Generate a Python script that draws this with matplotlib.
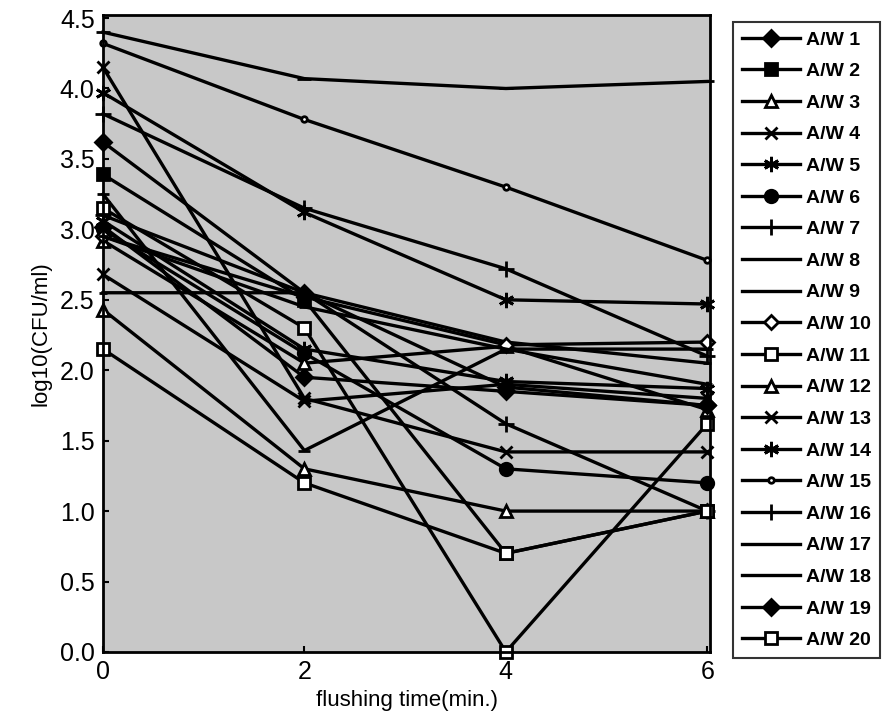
import matplotlib
matplotlib.use("Agg")
import matplotlib.pyplot as plt

plt.rcParams['font.family'] = ['Liberation Sans', 'DejaVu Sans']

times = [0, 2, 4, 6]
labels = ["A/W %d" % i for i in range(1, 21)]

aw1 = [3.02, 1.95, 1.85, 1.75]
aw2 = [3.39, 2.50, 0.70, 1.00]
aw3 = [2.92, 2.05, 2.17, 1.72]
aw4 = [2.68, 1.78, 1.90, 1.80]
aw5 = [3.06, 2.15, 1.92, 1.87]
aw6 = [3.00, 2.12, 1.30, 1.20]
aw7 = [3.10, 2.55, 1.62, 1.00]
aw8 = [2.55, 2.55, 2.20, 2.05]
aw9 = [3.25, 1.43, 2.15, 2.15]
aw10 = [2.95, 2.52, 2.18, 2.20]
aw11 = [3.15, 2.30, 0.00, 1.62]
aw12 = [2.43, 1.30, 1.00, 1.00]
aw13 = [4.15, 1.80, 1.42, 1.42]
aw14 = [3.97, 3.12, 2.50, 2.47]
aw15 = [4.32, 3.78, 3.30, 2.78]
aw16 = [3.82, 3.15, 2.72, 2.10]
aw17 = [2.95, 2.45, 2.15, 1.90]
aw18 = [4.40, 4.07, 4.00, 4.05]
aw19 = [3.62, 2.55, 1.88, 1.75]
aw20 = [2.15, 1.20, 0.70, 1.00]

series = [aw1, aw2, aw3, aw4, aw5, aw6, aw7, aw8, aw9, aw10,
          aw11, aw12, aw13, aw14, aw15, aw16, aw17, aw18, aw19, aw20]

# marker, size, face colour
styles = [
    ('D', 8, 'black'), ('s', 9, 'black'), ('^', 8, 'white'), ('x', 9, 'black'),
    ((6, 2, 0), 11, 'black'), ('o', 9, 'black'), ('+', 12, 'black'), ('_', 6, 'black'),
    ('_', 9, 'black'), ('D', 7, 'white'), ('s', 9, 'white'), ('^', 8, 'white'),
    ('x', 9, 'black'), ((6, 2, 0), 11, 'black'), ('o', 4, 'white'), ('+', 12, 'black'),
    ('_', 7, 'black'), ('_', 10, 'black'), ('D', 8, 'black'), ('s', 9, 'white'),
]

fig = plt.figure(figsize=(8.84, 7.26), dpi=100)
ax = fig.add_axes([0.1165, 0.102, 0.687, 0.877])
ax.set_facecolor('#c8c8c8')

for vals, lab, (m, ms, fc) in zip(series, labels, styles):
    ax.plot(times, vals, color='black', lw=2.4, marker=m, markersize=ms,
            markerfacecolor=fc, markeredgecolor='black', markeredgewidth=2,
            label=lab, clip_on=False)

ax.set_xlim(0, 6.03)
ax.set_ylim(0, 4.52)
ax.set_xticks([0, 2, 4, 6])
ax.set_yticks([0, 0.5, 1, 1.5, 2, 2.5, 3, 3.5, 4, 4.5])
ax.set_yticklabels(["%.1f" % v for v in ax.get_yticks()])
ax.tick_params(direction='in', labelsize=18, length=4, width=1.5, pad=6)
for s in ax.spines.values():
    s.set_linewidth(2)

ax.set_xlabel("flushing time(min.)", fontsize=16, labelpad=4)
ax.set_ylabel("log10(CFU/ml)", fontsize=16, labelpad=6)

leg = ax.legend(loc='upper left', bbox_to_anchor=(1.038, 0.989), fontsize=14,
                frameon=True, fancybox=False, edgecolor='black',
                handlelength=3.0, labelspacing=0.72, borderpad=0.45,
                handletextpad=0.3, borderaxespad=0)
leg.get_frame().set_linewidth(1.5)
for t in leg.get_texts():
    t.set_fontweight('bold')

fig.savefig("out.png", dpi=100)
